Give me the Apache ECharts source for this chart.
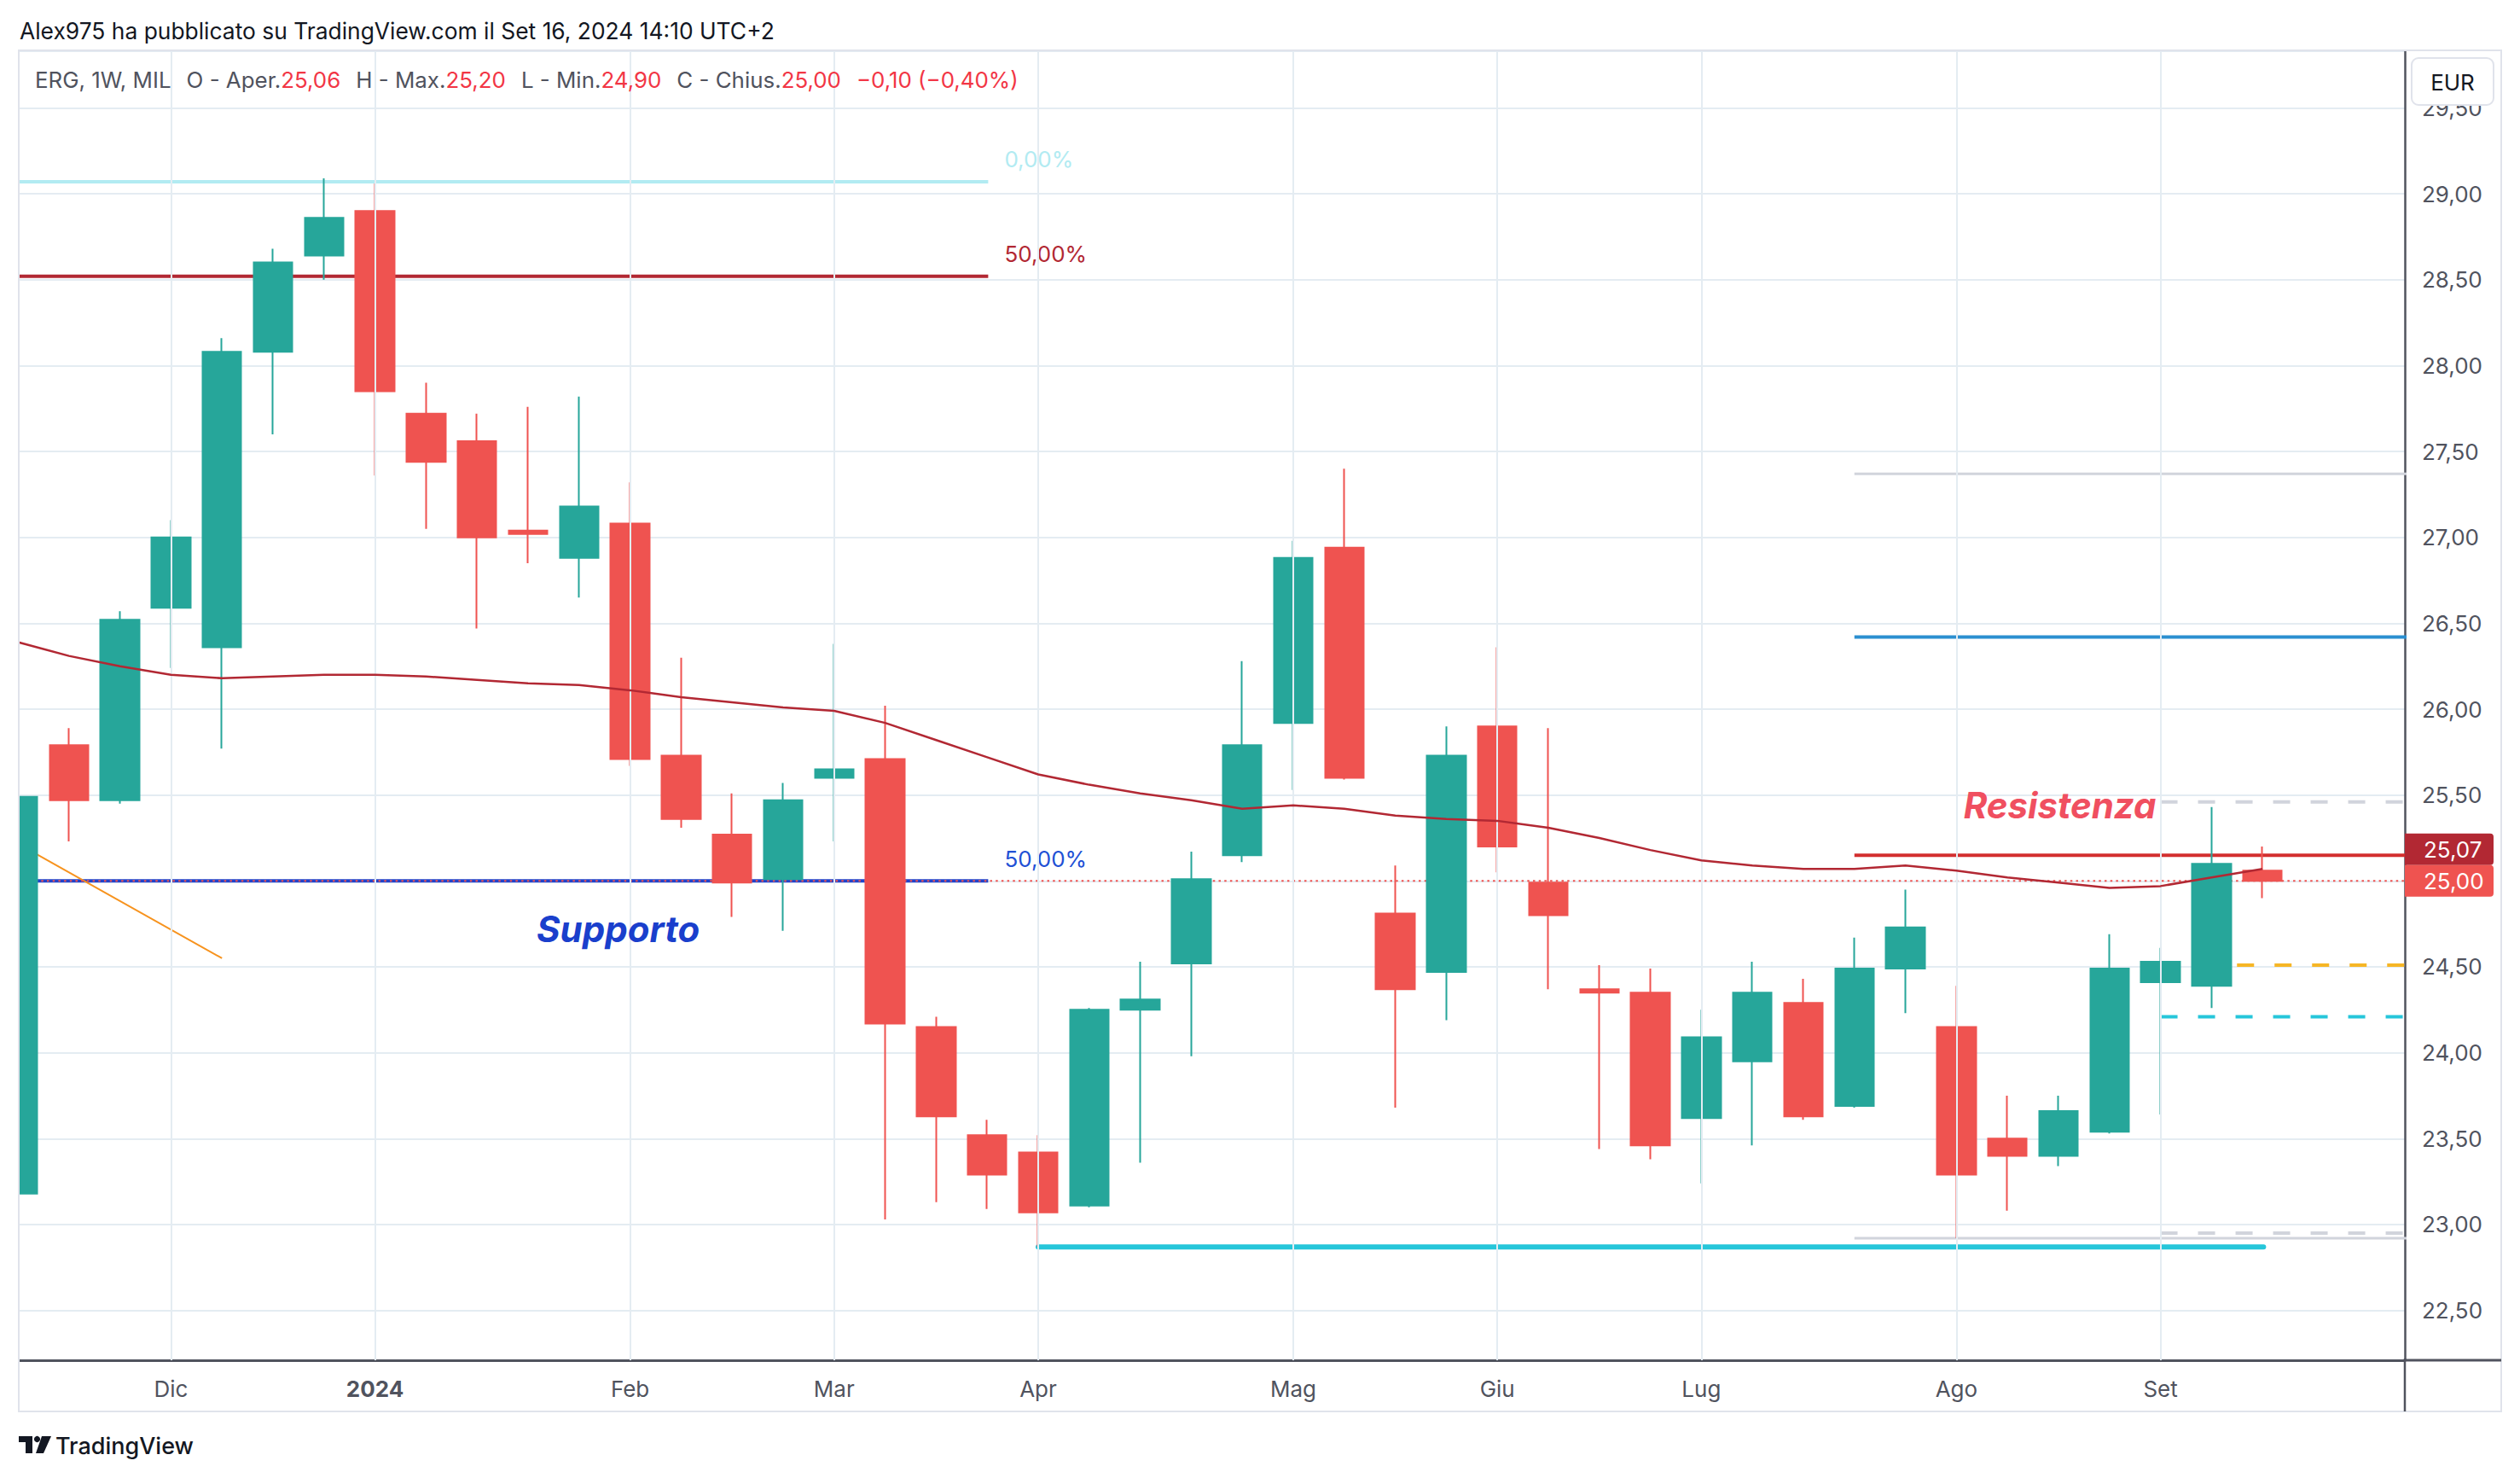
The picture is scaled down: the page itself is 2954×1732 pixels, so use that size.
<!DOCTYPE html>
<html><head><meta charset="utf-8">
<script src="https://cdn.jsdelivr.net/npm/echarts@6/dist/echarts.min.js"></script>
<style>html,body{margin:0;padding:0;background:#fff}#c{width:2954px;height:1732px}</style>
</head><body><div id="c"></div>
<script>
// ---- data (weekly candles, index 0 = week of 13 Nov 2023) ----
const weeks = ['2023-11-13','2023-11-20','2023-11-27','2023-12-04','2023-12-11','2023-12-18','2023-12-25',
 '2024-01-01','2024-01-08','2024-01-15','2024-01-22','2024-01-29','2024-02-05','2024-02-12','2024-02-19','2024-02-26',
 '2024-03-04','2024-03-11','2024-03-18','2024-03-25','2024-04-01','2024-04-08','2024-04-15','2024-04-22','2024-04-29',
 '2024-05-06','2024-05-13','2024-05-20','2024-05-27','2024-06-03','2024-06-10','2024-06-17','2024-06-24',
 '2024-07-01','2024-07-08','2024-07-15','2024-07-22','2024-07-29','2024-08-05','2024-08-12','2024-08-19','2024-08-26',
 '2024-09-02','2024-09-09','2024-09-16'];
const opens  = [23.18,25.79,25.47,26.59,26.36,28.08,28.64,28.90,27.72,27.56,27.04,26.88,27.08,25.73,25.27,25.01,
                25.60,25.71,24.15,23.52,23.42,23.11,24.25,24.52,25.15,25.92,26.94,24.81,24.47,25.90,24.99,24.37,
                24.35,23.62,23.95,24.29,23.69,24.49,24.15,23.50,23.40,23.54,24.41,24.39,25.06];
const highs  = [25.55,25.89,26.57,27.10,28.16,28.68,29.09,29.06,27.90,27.72,27.76,27.82,27.32,26.30,25.51,25.57,
                26.38,26.02,24.21,23.61,23.52,24.26,24.53,25.17,26.28,26.98,27.40,25.09,25.90,26.36,25.89,24.51,
                24.49,24.25,24.53,24.43,24.67,24.95,24.39,23.75,23.75,24.69,24.61,25.43,25.20];
const lows   = [23.10,25.23,25.45,26.24,25.77,27.60,28.50,27.36,27.05,26.47,26.85,26.65,25.67,25.31,24.79,24.71,
                25.23,23.03,23.13,23.09,22.87,23.10,23.36,23.98,25.11,25.53,25.59,23.68,24.19,25.05,24.37,23.44,
                23.38,23.24,23.46,23.61,23.68,24.23,22.92,23.08,23.34,23.53,23.64,24.26,24.90];
const closes = [25.49,25.47,26.52,27.00,28.08,28.60,28.86,27.85,27.44,27.00,27.02,27.18,25.71,25.36,24.99,25.47,
                25.65,24.17,23.63,23.29,23.07,24.25,24.31,25.01,25.79,26.88,25.60,24.37,25.73,25.20,24.80,24.35,
                23.46,24.09,24.35,23.63,24.49,24.73,23.29,23.40,23.66,24.49,24.53,25.10,25.00];
const movingAvg = [26.39,26.31,26.25,26.20,26.18,26.19,26.20,26.20,26.19,26.17,26.15,26.14,26.11,26.07,26.04,26.01,
                25.99,25.92,25.82,25.72,25.62,25.56,25.51,25.47,25.42,25.44,25.42,25.38,25.36,25.35,25.31,25.25,
                25.18,25.12,25.09,25.07,25.07,25.09,25.06,25.02,24.99,24.96,24.97,25.02,25.07];
const monthTicks  = [3,7,12,16,20,25,29,33,38,42];
const monthLabels = ['Dic','2024','Feb','Mar','Apr','Mag','Giu','Lug','Ago','Set'];

// drawings: [weekIndex, price] pairs
const fib0Line      = [[-1,29.07],[19.02,29.07]];
const fib50TopLine  = [[-1,28.52],[19.02,28.52]];
const fib50LowLine  = [[-1,25.00],[19.02,25.00]];
const trendLine     = [[-0.5,25.30],[4.0,24.55]];
const supportLine   = [[20,22.87],[44.02,22.87]];
const rangeTopLine  = [[36,27.37],[48,27.37]];
const blueLine      = [[36,26.42],[48,26.42]];
const resistLine    = [[36,25.15],[48,25.15]];
const rangeLowLine  = [[36,22.92],[48,22.92]];
const dashTopLine   = [[42,25.46],[48,25.46]];
const dashYellow    = [[43.5,24.51],[48,24.51]];
const dashCyan      = [[42,24.21],[48,24.21]];
const dashLowLine   = [[42,22.95],[48,22.95]];
const annotations   = [{pos:[10.16,24.72], text:'Supporto', color:'#1a3fcc', size:42},
                       {pos:[38.13,25.44], text:'Resistenza', color:'#f04f60', size:42}];

const FONT = 'Inter, "Noto Sans", sans-serif';
const fmt = v => v.toFixed(2).replace('.', ',').replace('-', '\u2212');
const last = closes.length - 1;

const candleData = weeks.map((w, i) => [i, opens[i], closes[i], lows[i], highs[i]]);

function hline(data, color, width, type, z, extra) {
  return Object.assign({type:'line', data, symbol:'none', silent:true, animation:false, z,
    lineStyle:{color, width, type: type || 'solid', cap:'butt'}}, extra || {});
}
function fibLabel(text, color) {
  return {endLabel:{show:true, formatter:text, color, fontSize:26, fontFamily:FONT, distance:19, offset:[0,-26]}};
}

const chart = echarts.init(document.getElementById('c'), null, {renderer:'svg'});
const option = {
  animation:false,
  backgroundColor:'#ffffff',
  textStyle:{fontFamily:FONT},
  grid:{left:21, right:135, top:60, bottom:138},
  xAxis:{type:'value', min:0, max:46.79, interval:1,
    axisLine:{show:true, onZero:false, lineStyle:{color:'#50535e', width:3}},
    axisTick:{show:false}, splitLine:{show:false},
    axisLabel:{margin:20, fontSize:26, color:'#50535e', fontFamily:FONT,
      formatter: v => { const k = monthTicks.indexOf(v); if (k < 0) return ''; return monthLabels[k] === '2024' ? '{b|2024}' : monthLabels[k]; },
      rich:{b:{fontWeight:'bold', fontSize:26, color:'#50535e', fontFamily:FONT}}}},
  yAxis:{type:'value', position:'right', min:22.21, max:29.83, splitNumber:15, scale:true,
    axisLine:{show:true, onZero:false, lineStyle:{color:'#50535e', width:2.5}},
    axisTick:{show:false},
    splitLine:{show:true, lineStyle:{color:'#e4ecf2', width:2}},
    axisLabel:{margin:20, fontSize:26, color:'#50535e', fontFamily:FONT,
      formatter: v => (Math.abs(v*2 - Math.round(v*2)) > 1e-6) ? '' : fmt(v)}},
  series:[
    {type:'line', data:[], z:1, silent:true,
      markLine:{silent:true, symbol:['none','none'], label:{show:false},
        lineStyle:{color:'#e4ecf2', width:2, type:'solid'},
        data: monthTicks.map(v => ({xAxis:v}))}},
    hline(fib0Line, '#b2ebf2', 4, 'solid', 2, fibLabel('0,00%', '#b2ebf2')),
    hline(fib50TopLine, '#b22833', 4, 'solid', 2, fibLabel('50,00%', '#b22833')),
    hline(fib50LowLine, '#1f43cc', 4, 'solid', 2, fibLabel('50,00%', '#2150d5')),
    hline(trendLine, '#f7931e', 2, 'solid', 2),
    hline(supportLine, '#26c6da', 6, 'solid', 2, {lineStyle:{color:'#26c6da', width:6, cap:'round'}}),
    hline(rangeTopLine, '#d1d4dc', 3, 'solid', 2),
    hline(blueLine, '#2b8fd0', 4, 'solid', 2),
    hline(resistLine, '#d32f2f', 4, 'solid', 2),
    hline(rangeLowLine, '#d1d4dc', 3, 'solid', 2),
    hline(dashTopLine, '#d1d4dc', 4, [20,24], 2),
    hline(dashYellow, '#f6b626', 4, [20,24], 2),
    hline(dashCyan, '#26c6da', 4, [20,24], 2),
    hline(dashLowLine, '#d1d4dc', 4, [20,24], 2),
    hline([[-1, closes[last]],[48, closes[last]]], '#ef5350', 2, [2.5,4.2], 3),
    {type:'candlestick', data:candleData, encode:{x:0, y:[1,2,3,4]}, z:4, barWidth:46, clip:true,
      itemStyle:{color:'#26a69a', color0:'#ef5350', borderColor:'#26a69a', borderColor0:'#ef5350', borderWidth:2}},
    {type:'line', data:movingAvg.map((v,i)=>[i,v]), symbol:'none', z:5, silent:true,
      lineStyle:{color:'#b22833', width:2.5}},
    {type:'scatter', z:6, silent:true, symbolSize:1, itemStyle:{color:'rgba(0,0,0,0)', opacity:1},
      data: annotations.map(a => ({value:a.pos, label:{show:true, position:'right', distance:0, opacity:1,
        formatter:a.text, color:a.color, fontSize:a.size, fontWeight:'bold', fontStyle:'italic', fontFamily:FONT}}))}
  ]
};
chart.setOption(option);

// ---- frame, header, legend, price tags ----
const yPrice = chart.convertToPixel({yAxisIndex:0}, closes[last]);
const chg = closes[last] - closes[last-1];
const pct = chg / closes[last-1] * 100;
const gray = '#50535e', red = '#f23645';
const legendText = '{g|ERG, 1W, MIL}{sp| }{g|O - Aper.}{r|' + fmt(opens[last]) + '}{sp| }' +
  '{g|H - Max.}{r|' + fmt(highs[last]) + '}{sp| }{g|L - Min.}{r|' + fmt(lows[last]) + '}{sp| }' +
  '{g|C - Chius.}{r|' + fmt(closes[last]) + '}{sp| }{r|' + fmt(chg) + ' (' + fmt(pct) + '%)}';
const LS = 25.9;
const txt = (x,y,text,fill,size,extra) => ({type:'text', z:100, silent:true,
  style:Object.assign({x,y,text,fill,fontSize:size,fontFamily:FONT,align:'left',verticalAlign:'middle'}, extra||{})});
const graphics = [
  {type:'rect', z:90, silent:true, shape:{x:0,y:50,width:21,height:1560}, style:{fill:'#ffffff'}},
  {type:'rect', z:95, silent:true, shape:{x:22,y:59,width:2910,height:1595}, style:{fill:'none', stroke:'#e0e3eb', lineWidth:2}},
  {type:'line', z:96, silent:true, shape:{x1:2819,y1:1592,x2:2819,y2:1654}, style:{stroke:'#50535e', lineWidth:2.5}},
  {type:'line', z:96, silent:true, shape:{x1:2819,y1:1594,x2:2932,y2:1594}, style:{stroke:'#50535e', lineWidth:3}},
  txt(23, 36, 'Alex975 ha pubblicato su TradingView.com il Set 16, 2024 14:10 UTC+2', '#131722', 26.4),
  txt(41, 93, legendText, gray, LS, {rich:{
    g:{fill:gray, fontSize:LS, fontFamily:FONT},
    r:{fill:red, fontSize:LS, fontFamily:FONT},
    sp:{width:18, fontSize:LS}}}),
  {type:'rect', z:100, silent:true, shape:{x:2827,y:68,width:96,height:55,r:8}, style:{fill:'#ffffff', stroke:'#e0e3eb', lineWidth:2}},
  txt(2875, 96, 'EUR', '#131722', 26, {align:'center'}),
  {type:'rect', z:100, silent:true, shape:{x:2819,y:yPrice-55.5,width:104,height:37,r:[0,4,4,0]}, style:{fill:'#b22833'}},
  txt(2841, yPrice-37, fmt(movingAvg[last]), '#ffffff', 26),
  {type:'rect', z:100, silent:true, shape:{x:2819,y:yPrice-18.5,width:104,height:37,r:[0,4,4,0]}, style:{fill:'#ef5350'}},
  txt(2841, yPrice, fmt(closes[last]), '#ffffff', 26),
  {type:'polygon', z:100, silent:true, shape:{points:[[22,1683],[38,1683],[38,1703],[30,1703],[30,1690],[22,1690]]}, style:{fill:'#131722'}},
  {type:'circle', z:100, silent:true, shape:{cx:43.5,cy:1686.5,r:3.6}, style:{fill:'#131722'}},
  {type:'polygon', z:100, silent:true, shape:{points:[[49,1683],[60,1683],[51,1703],[42,1703]]}, style:{fill:'#131722'}},
  txt(65, 1694, 'TradingView', '#131722', 27, {fontWeight:500})
];
chart.setOption({graphic:graphics});
</script></body></html>
